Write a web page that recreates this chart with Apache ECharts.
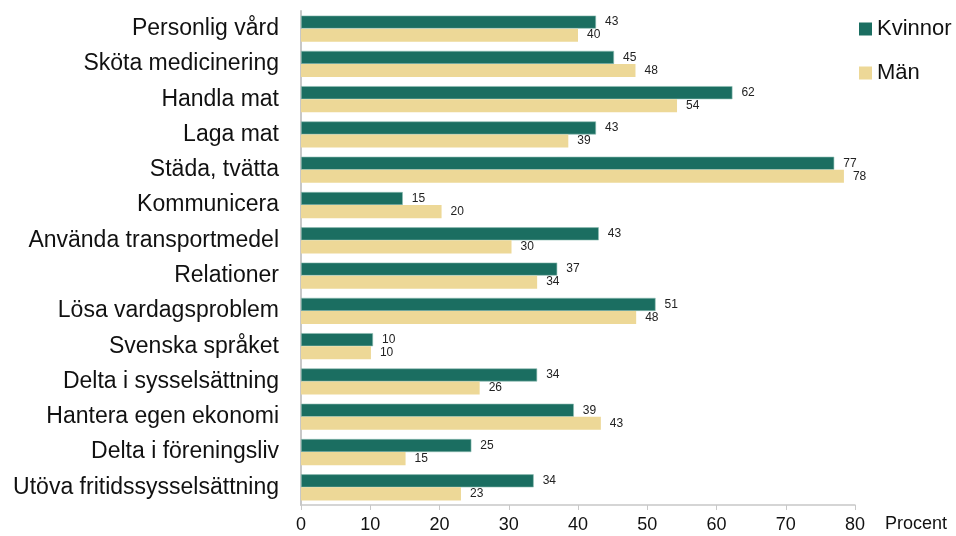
<!DOCTYPE html>
<html>
<head>
<meta charset="utf-8">
<script src="https://cdn.jsdelivr.net/npm/echarts@6/dist/echarts.min.js"></script>
<style>
  html, body { margin: 0; padding: 0; background: #fff; }
  #chart { width: 956px; height: 536px; }
</style>
</head>
<body>
<div id="chart"></div>
<script>
// kategorier uppifrån och ner
const categories = [
  'Personlig vård', 'Sköta medicinering', 'Handla mat', 'Laga mat',
  'Städa, tvätta', 'Kommunicera', 'Använda transportmedel', 'Relationer',
  'Lösa vardagsproblem', 'Svenska språket', 'Delta i sysselsättning',
  'Hantera egen ekonomi', 'Delta i föreningsliv', 'Utöva fritidssysselsättning'
];
const kvinnor = [42.6, 45.2, 62.3, 42.6, 77.0, 14.7, 43.0, 37.0, 51.2, 10.4, 34.1, 39.4, 24.6, 33.6];
const man = [40.0, 48.3, 54.3, 38.6, 78.4, 20.3, 30.4, 34.1, 48.4, 10.1, 25.8, 43.3, 15.1, 23.1];
const xTicks = [0, 10, 20, 30, 40, 50, 60, 70, 80];

const font = 'Liberation Sans';
const chart = echarts.init(document.getElementById('chart'));

const valueLabel = {
  show: true,
  position: 'right',
  distance: 9,
  fontSize: 12,
  fontFamily: font,
  color: '#222',
  formatter: p => Math.round(p.value)
};

chart.setOption({
  animation: false,
  grid: { left: 301, right: 101, top: 11, bottom: 31, containLabel: false },
  legend: {
    orient: 'vertical',
    left: 854,
    top: 13,
    itemWidth: 13,
    itemHeight: 13,
    itemGap: 22,
    icon: 'rect',
    itemStyle: { borderWidth: 0 },
    textStyle: { fontFamily: font, fontSize: 22, color: '#111' },
    data: ['Kvinnor', 'Män']
  },
  xAxis: {
    type: 'value',
    min: xTicks[0],
    max: xTicks[xTicks.length - 1],
    interval: 10,
    name: 'Procent',
    nameLocation: 'end',
    nameGap: 30,
    nameTextStyle: { fontFamily: font, fontSize: 18, color: '#111', verticalAlign: 'top', padding: [10, 0, 0, 0] },
    axisLine: { show: true, lineStyle: { color: '#c8c8c8', width: 1.5 } },
    axisTick: { show: true, length: 5, lineStyle: { color: '#c8c8c8' } },
    axisLabel: { fontFamily: font, fontSize: 18, color: '#111', margin: 11 },
    splitLine: { show: false }
  },
  yAxis: {
    type: 'category',
    inverse: true,
    data: categories,
    axisLine: { show: true, lineStyle: { color: '#c8c8c8', width: 2 } },
    axisTick: { show: false },
    axisLabel: { fontFamily: font, fontSize: 23, color: '#111', margin: 22 }
  },
  series: [
    {
      name: 'Kvinnor',
      type: 'bar',
      data: kvinnor,
      barGap: '0%',
      barCategoryGap: '26%',
      itemStyle: { color: '#1b6e61', borderColor: '#8fbdb3', borderWidth: 0.6 },
      label: valueLabel
    },
    {
      name: 'Män',
      type: 'bar',
      data: man,
      itemStyle: { color: '#edd897' },
      label: valueLabel
    }
  ]
});
</script>
</body>
</html>
